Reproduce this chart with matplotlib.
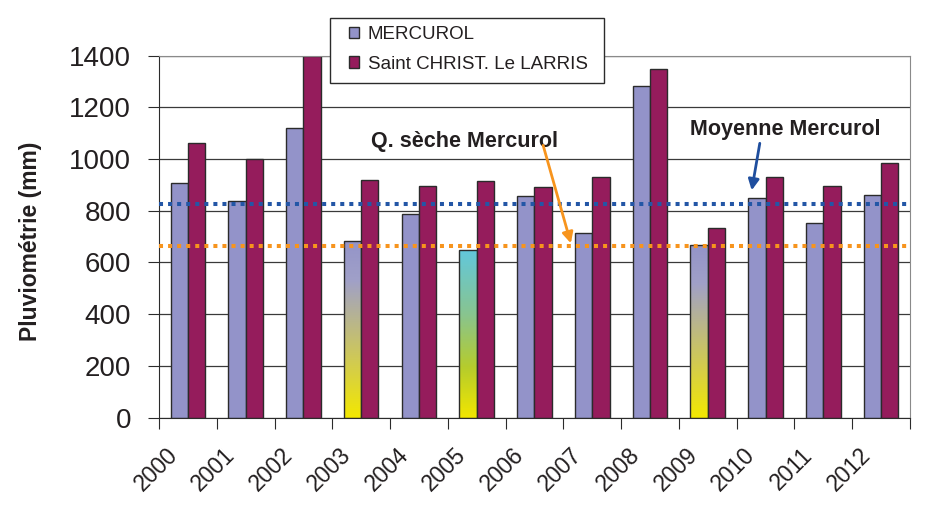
import numpy as np
import matplotlib.pyplot as plt
from matplotlib.colors import LinearSegmentedColormap
from matplotlib.patches import Rectangle
from matplotlib.transforms import ScaledTranslation

plt.rcParams['font.family'] = ['Liberation Sans', 'DejaVu Sans']

# Annual rainfall (mm)
years = ['2000', '2001', '2002', '2003', '2004', '2005', '2006',
         '2007', '2008', '2009', '2010', '2011', '2012']
mercurol = [907, 838, 1121, 683, 786, 650, 856, 712, 1284, 669, 849, 753, 862]
st_christ = [1063, 1000, 1400, 920, 897, 915, 891, 930, 1347, 735, 930, 896, 985]

moyenne_mercurol = 826
q_seche_mercurol = 665

# dry years get a gradient fill instead of a flat colour
dry_gradients = {
    '2003': [(0, '#f3e800'), (0.78, '#a0a0c8'), (1, '#9494c8')],
    '2005': [(0, '#f2e600'), (0.3, '#b6cc2c'), (0.62, '#88c490'), (1, '#62c8dc')],
    '2009': [(0, '#f3e800'), (0.78, '#a0a0c8'), (1, '#9494c8')],
}

txt = '#231f20'
edge = '#2b2b2b'

fig = plt.figure(figsize=(9.34, 5.18), dpi=100)
ax = fig.add_axes([0.1702, 0.194, 0.8041, 0.6985])

x = np.arange(len(years))
w = 0.3
bars_m = ax.bar(x - w / 2, mercurol, w, color='#9393c9', edgecolor=edge,
                linewidth=1, label='MERCUROL', zorder=2)
bars_s = ax.bar(x + w / 2, st_christ, w, color='#951c5c', edgecolor=edge,
                linewidth=1, label='Saint CHRIST. Le LARRIS', zorder=2)

grad = np.linspace(0, 1, 256).reshape(-1, 1)
for yr, stops in dry_gradients.items():
    patch = bars_m[years.index(yr)]
    patch.set_facecolor('none')
    cmap = LinearSegmentedColormap.from_list('dry' + yr, stops)
    x0 = patch.get_x()
    im = ax.imshow(grad, cmap=cmap, origin='lower', aspect='auto',
                   extent=[x0, x0 + patch.get_width(), 0, patch.get_height()],
                   interpolation='bilinear', zorder=1.9)
    im.set_clip_path(patch)

# reference levels
ax.axhline(moyenne_mercurol, color='#2356a6', lw=2.9, ls=(0, (1, 1.25)), zorder=3)
ax.axhline(q_seche_mercurol, color='#f7941d', lw=2.9, ls=(0, (1, 1.25)), zorder=3)

ax.set_xlim(-0.5, len(years) - 0.5)
ax.set_ylim(0, 1400)

ax.set_axisbelow(True)
ax.yaxis.grid(True, color='#3a3a3a', lw=0.9)
for s in ['left', 'bottom']:
    ax.spines[s].set_color(edge)
for s in ['top', 'right']:
    ax.spines[s].set_color('#8a8a8a')

ax.set_yticks(range(0, 1401, 200))
ax.tick_params(axis='y', labelsize=20, length=8, color=edge, labelcolor=txt, pad=12)

# tick marks between groups, labels at group centres
ax.set_xticks(np.arange(-0.5, len(years)))
ax.tick_params(axis='x', which='major', length=8, color=edge, labelbottom=False)
ax.set_xticks(x, labels=years, minor=True)
ax.tick_params(axis='x', which='minor', length=0, pad=0, labelsize=16.5, labelcolor=txt)
offset = ScaledTranslation(-0.14, -0.34, fig.dpi_scale_trans)
for lbl in ax.get_xticklabels(minor=True):
    lbl.set_rotation(45)
    lbl.set_ha('right')
    lbl.set_va('center')
    lbl.set_rotation_mode('anchor')
    lbl.set_transform(lbl.get_transform() + offset)

ax.set_ylabel('Pluviométrie (mm)', fontsize=16.5, fontweight='bold', color=txt, va='center')
ax.yaxis.set_label_coords(-0.171, 0.488)

# annotations
ax.text(4.79, 1068, 'Q. sèche Mercurol', fontsize=15.5, fontweight='bold',
        ha='center', va='center', color=txt)
ax.annotate('', xy=(6.63, 674), xytext=(6.15, 1053),
            arrowprops=dict(arrowstyle='-|>', color='#f7941d', lw=2,
                            mutation_scale=16, shrinkA=0, shrinkB=0))
ax.text(10.34, 1115, 'Moyenne Mercurol', fontsize=15.5, fontweight='bold',
        ha='center', va='center', color=txt)
ax.annotate('', xy=(9.76, 879), xytext=(9.90, 1061),
            arrowprops=dict(arrowstyle='-|>', color='#1f4e9e', lw=2,
                            mutation_scale=16, shrinkA=0, shrinkB=0))

# legend box sits over the top of the plot area
box = Rectangle((330 / 934, 1 - 83 / 518), 274 / 934, 65 / 518,
                transform=fig.transFigure, facecolor='white', edgecolor=edge,
                lw=1, zorder=4)
fig.add_artist(box)
leg = fig.legend(handles=[bars_m, bars_s], loc='upper left',
                 bbox_to_anchor=(349 / 934, 1 - 26 / 518), frameon=False,
                 fontsize=13.5, handlelength=0.55, handleheight=0.55,
                 handletextpad=0.45, labelspacing=0.67, borderpad=0,
                 borderaxespad=0)
leg.set_zorder(5)
for t in leg.get_texts():
    t.set_color(txt)

fig.savefig('out.png', dpi=100)
